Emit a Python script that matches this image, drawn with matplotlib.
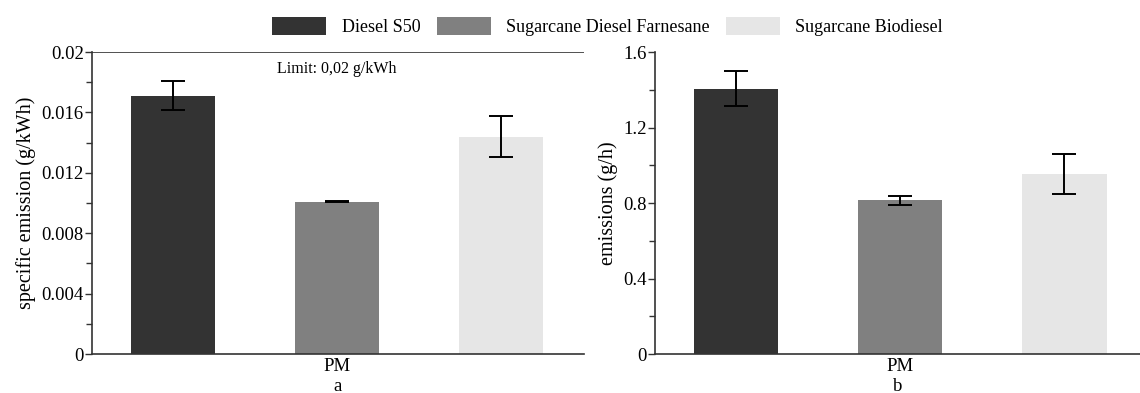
import matplotlib.pyplot as plt
from matplotlib.ticker import MultipleLocator

plt.rcParams['font.family'] = ['Liberation Serif', 'DejaVu Serif']

fuels = ['Diesel S50', 'Sugarcane Diesel Farnesane', 'Sugarcane Biodiesel']
cores = ['#333333', '#808080', '#e6e6e6']
pos = [0, 1, 2]

spec = [0.0171, 0.0101, 0.0144]
spec_err = [0.00097, 0.00005, 0.00137]

emis = [1.405, 0.814, 0.955]
emis_err = [0.093, 0.025, 0.105]

fig = plt.figure(figsize=(11.4, 3.93), dpi=100)
ax1 = fig.add_axes([0.0807, 0.0992, 0.4316, 0.7684])
ax2 = fig.add_axes([0.5746, 0.0992, 0.4254, 0.7684])

ekw = dict(ecolor='black', elinewidth=1.4, capsize=8.5, capthick=1.4)

bars = ax1.bar(pos, spec, width=0.512, color=cores, yerr=spec_err, error_kw=ekw)
ax1.axhline(0.02, color='#333333', lw=1.2)
ax1.text(1, 0.0189, 'Limit: 0,02 g/kWh', ha='center', va='center', fontsize=11.5)
ax1.set_ylim(0, 0.02)
ax1.set_xlim(-0.494, 2.506)
ax1.set_yticks([0, 0.004, 0.008, 0.012, 0.016, 0.02])
ax1.set_yticklabels(['0', '0.004', '0.008', '0.012', '0.016', '0.02'])
ax1.yaxis.set_minor_locator(MultipleLocator(0.002))
ax1.set_ylabel('specific emission (g/kWh)', fontsize=14.5)
ax1.set_xlabel('a', fontsize=13.5, labelpad=2)

ax2.bar(pos, emis, width=0.512, color=cores, yerr=emis_err, error_kw=ekw)
ax2.set_ylim(0, 1.6)
ax2.set_xlim(-0.494, 2.46)
ax2.set_yticks([0, 0.4, 0.8, 1.2, 1.6])
ax2.set_yticklabels(['0', '0.4', '0.8', '1.2', '1.6'])
ax2.yaxis.set_minor_locator(MultipleLocator(0.2))
ax2.set_ylabel('emissions (g/h)', fontsize=14.5)
ax2.set_xlabel('b', fontsize=13.5, labelpad=2)

for ax in (ax1, ax2):
    for s in ['top', 'right']:
        ax.spines[s].set_visible(False)
    for s in ['left', 'bottom']:
        ax.spines[s].set_color('#333333')
        ax.spines[s].set_linewidth(1.2)
    ax.set_xticks([1])
    ax.set_xticklabels(['PM'])
    ax.tick_params(axis='x', length=0, labelsize=13.5, pad=3)
    ax.tick_params(axis='y', which='major', length=5, width=1, labelsize=13.5, pad=1, color='#333333')
    ax.tick_params(axis='y', which='minor', length=4, width=1, color='#333333')

fig.legend(bars, fuels, loc='center', bbox_to_anchor=(0.533, 0.933), ncol=3,
           frameon=False, fontsize=13, handlelength=3.0, handleheight=1.15,
           handletextpad=0.85, columnspacing=0.9)

fig.savefig('out.png', dpi=100)
